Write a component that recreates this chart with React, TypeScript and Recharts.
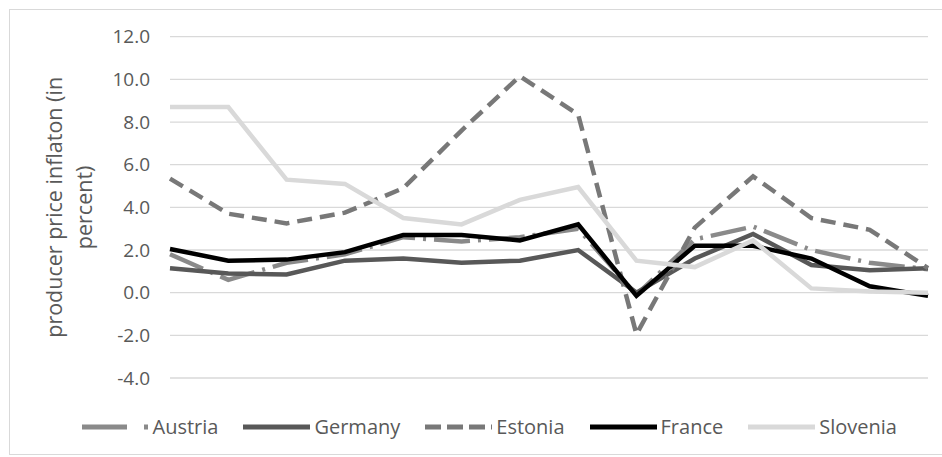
import React from 'react';
import { LineChart, Line, XAxis, YAxis, CartesianGrid, Label } from 'recharts';

const years = ['2001', '2002', '2003', '2004', '2005', '2006', '2007', '2008', '2009', '2010', '2011', '2012', '2013', '2014'];
const austria = [1.8, 0.6, 1.4, 1.8, 2.6, 2.4, 2.6, 3.0, -0.1, 2.5, 3.1, 2.0, 1.4, 1.1];
const germany = [1.15, 0.9, 0.85, 1.5, 1.6, 1.4, 1.5, 2.0, 0.0, 1.6, 2.75, 1.3, 1.05, 1.15];
const estonia = [5.35, 3.7, 3.25, 3.75, 4.9, 7.6, 10.15, 8.35, -1.95, 3.05, 5.45, 3.5, 2.95, 1.15];
const france = [2.05, 1.5, 1.55, 1.9, 2.7, 2.7, 2.45, 3.2, -0.15, 2.2, 2.2, 1.6, 0.3, -0.15];
const slovenia = [8.7, 8.7, 5.3, 5.1, 3.5, 3.2, 4.35, 4.95, 1.5, 1.2, 2.45, 0.2, 0.05, 0.0];
const yTicks = [-4, -2, 0, 2, 4, 6, 8, 10, 12];
const yLabelLines = ['producer price inflaton (in', 'percent)'];

const series = [
  { key: 'Austria', values: austria, color: '#8a8a8a', dash: '36 8 3 8', legendDash: '45 17 4 20' },
  { key: 'Germany', values: germany, color: '#585858', dash: undefined, legendDash: undefined },
  { key: 'Estonia', values: estonia, color: '#787878', dash: '15 8', legendDash: '16 6' },
  { key: 'France', values: france, color: '#000000', dash: undefined, legendDash: undefined },
  { key: 'Slovenia', values: slovenia, color: '#d9d9d9', dash: undefined, legendDash: undefined },
];

const data = years.map((year, i) => {
  const row: Record<string, number | string> = { year };
  series.forEach((s) => {
    row[s.key] = s.values[i];
  });
  return row;
});

const W = 942;
const H = 457;
const M = { top: 36.7, right: 14, bottom: 79, left: 0 };
const YAXIS_W = 170;
const PLOT_H = H - M.top - M.bottom;
const Y_MIN = -4;
const Y_MAX = 12;
const FONT = '"Open Sans", "Noto Sans", sans-serif';
const TEXT_COLOR = '#595959';
const FS = 19;
const LABEL_FS = 21.5;
const LEGEND_FS = 20;

const zeroY = M.top + (PLOT_H * (Y_MAX - 0)) / (Y_MAX - Y_MIN);

const XTick = (props: any) => {
  const { x, payload } = props;
  return (
    <text x={x} y={zeroY + 36} textAnchor="middle" fill={TEXT_COLOR} fontSize={FS} fontFamily={FONT}>
      {payload.value}
    </text>
  );
};

const YLabel = () => {
  const cy = M.top + PLOT_H / 2;
  const xs = [62, 92.5];
  return (
    <g>
      {yLabelLines.map((line, i) => (
        <text
          key={i}
          x={xs[i]}
          y={cy}
          transform={`rotate(-90, ${xs[i]}, ${cy})`}
          textAnchor="middle"
          fill={TEXT_COLOR}
          fontSize={LABEL_FS}
          fontFamily={FONT}
        >
          {line}
        </text>
      ))}
    </g>
  );
};

const LegendBox = () => (
  <div
    style={{
      position: 'absolute',
      left: 81.5,
      top: 427 - 13,
      height: 26,
      display: 'flex',
      alignItems: 'center',
      fontFamily: FONT,
      fontSize: LEGEND_FS,
      color: TEXT_COLOR,
      whiteSpace: 'nowrap',
    }}
  >
    {series.map((s) => (
      <div key={s.key} style={{ display: 'flex', alignItems: 'center', marginRight: 25 }}>
        <svg width={67} height={10} style={{ display: 'block' }}>
          <line x1={0} y1={5} x2={67} y2={5} stroke={s.color} strokeWidth={5} strokeDasharray={s.legendDash} />
        </svg>
        <span style={{ marginLeft: 4, lineHeight: '26px' }}>{s.key}</span>
      </div>
    ))}
  </div>
);

export default function App() {
  return (
    <div style={{ position: 'absolute', left: 0, top: 0, width: W, height: H, overflow: 'hidden', background: '#fff' }}>
      <div
        style={{
          position: 'absolute',
          left: 9,
          top: 9,
          width: 980,
          height: 446,
          border: '1px solid #d9d9d9',
          boxSizing: 'border-box',
        }}
      />
      <div style={{ position: 'absolute', left: 0, top: 0 }}>
        <LineChart width={W} height={H} data={data} margin={M}>
          <CartesianGrid vertical={false} stroke="#d9d9d9" strokeWidth={1.3} />
          <XAxis dataKey="year" axisLine={false} tickLine={false} tick={<XTick />} interval={0} height={0} />
          <YAxis
            domain={[Y_MIN, Y_MAX]}
            ticks={yTicks}
            width={YAXIS_W}
            axisLine={false}
            tickLine={false}
            tickSize={0}
            tickMargin={20}
            interval={0}
            tickFormatter={(v: number) => v.toFixed(1)}
            tick={{ fill: TEXT_COLOR, fontSize: FS, fontFamily: FONT }}
          >
            <Label content={<YLabel />} />
          </YAxis>
          {series.map((s) => (
            <Line
              key={s.key}
              type="linear"
              dataKey={s.key}
              stroke={s.color}
              strokeWidth={4.5}
              strokeDasharray={s.dash}
              dot={false}
              activeDot={false}
              isAnimationActive={false}
            />
          ))}
        </LineChart>
      </div>
      <LegendBox />
    </div>
  );
}
